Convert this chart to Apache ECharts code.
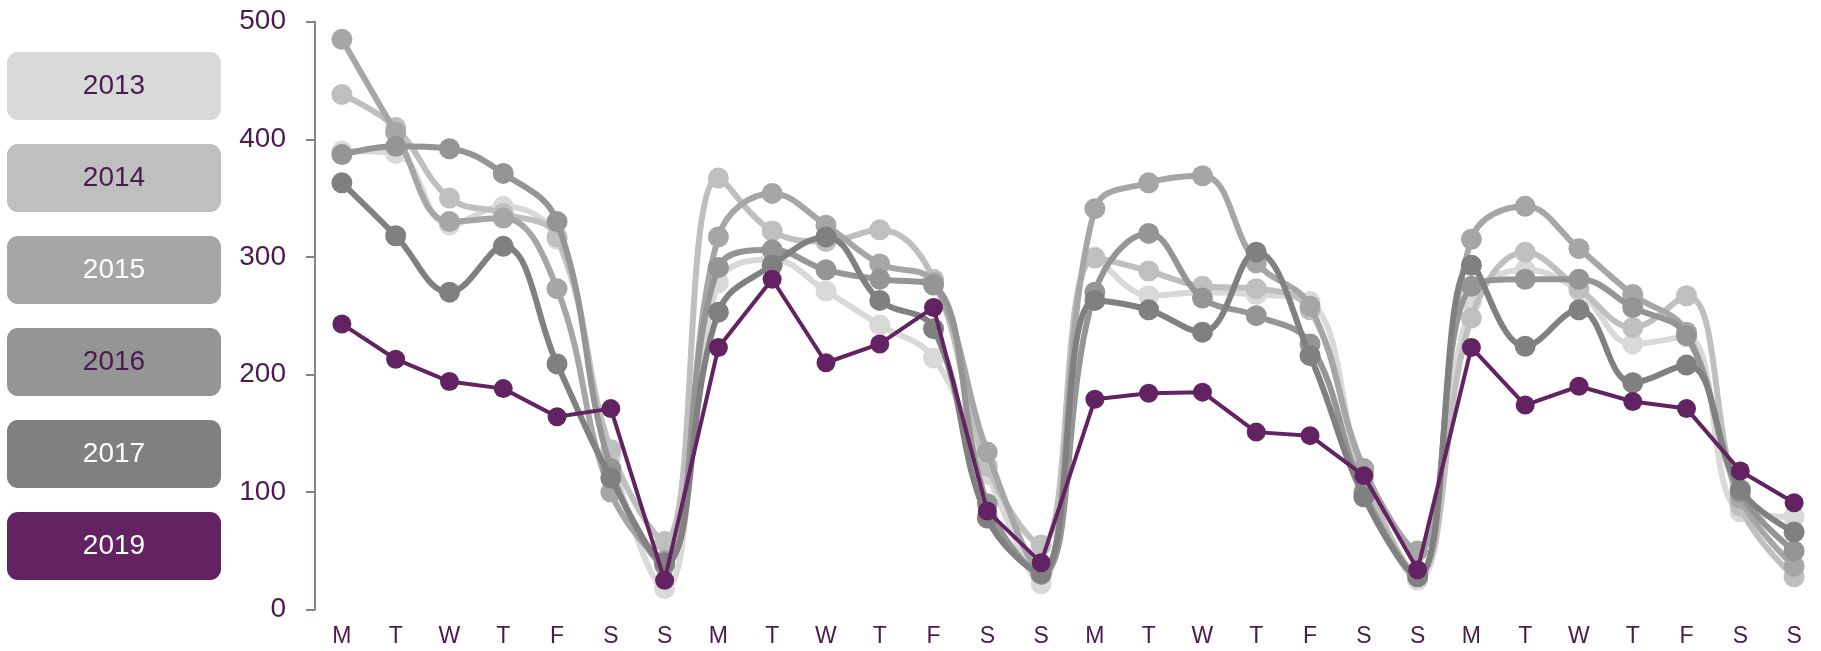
<!DOCTYPE html>
<html>
<head>
<meta charset="utf-8">
<script src="https://cdn.jsdelivr.net/npm/echarts@6/dist/echarts.min.js"></script>
<style>
  html, body { margin: 0; padding: 0; background: #ffffff; }
  #chart { width: 1821px; height: 651px; }
</style>
</head>
<body>
<div id="chart"></div>
<script>
// Weekday labels for four consecutive weeks
const dayLabels = [
  'M','T','W','T','F','S','S',
  'M','T','W','T','F','S','S',
  'M','T','W','T','F','S','S',
  'M','T','W','T','F','S','S'
];

const years = ['2013', '2014', '2015', '2016', '2017', '2019'];

// Daily counts per year
const v2013 = [390, 388, 327, 343, 315, 130, 18,
               278, 298, 271, 242, 214, 115, 22,
               300, 267, 270, 268, 262, 110, 25,
               262, 289, 271, 226, 232, 83, 79];
const v2014 = [438, 410, 350, 337, 317, 136, 58,
               367, 322, 313, 323, 281, 122, 55,
               299, 288, 275, 273, 255, 115, 30,
               248, 304, 273, 240, 267, 88, 28];
const v2015 = [485, 406, 330, 333, 273, 100, 42,
               317, 354, 327, 294, 278, 134, 32,
               341, 363, 369, 295, 258, 120, 50,
               315, 343, 307, 268, 236, 95, 37];
const v2016 = [387, 394, 392, 371, 330, 120, 38,
               291, 306, 289, 281, 276, 90, 30,
               270, 320, 265, 250, 226, 100, 30,
               275, 281, 281, 257, 233, 100, 50];
const v2017 = [363, 318, 270, 309, 209, 112, 40,
               253, 293, 317, 263, 239, 78, 31,
               263, 255, 236, 304, 216, 96, 28,
               293, 224, 255, 193, 208, 102, 66];
const v2019 = [243, 213, 194, 188, 164, 171, 25,
               223, 281, 210, 226, 257, 84, 40,
               179, 184, 185, 151, 148, 114, 34,
               223, 174, 190, 177, 171, 118, 91];

const yTicks = { min: 0, max: 500, step: 100 };

const seriesValues = [v2013, v2014, v2015, v2016, v2017, v2019];
const lineColors = ['#d9d9d9', '#bfbfbf', '#a6a6a6', '#959595', '#808080', '#632363'];
const legendTextColors = ['#4b1a4f', '#4b1a4f', '#ffffff', '#4b1a4f', '#ffffff', '#ffffff'];

const FONT = "'Liberation Sans', Arial, sans-serif";
const TEXT_PURPLE = '#4b1a4f';
const AXIS_GREY = '#8a7f8c';

const chart = echarts.init(document.getElementById('chart'), null, { renderer: 'canvas' });

const series = years.map((name, k) => {
  const highlight = name === '2019';
  return {
    name: name,
    type: 'line',
    data: seriesValues[k],
    smooth: highlight ? false : 0.4,
    symbol: 'circle',
    symbolSize: highlight ? 19 : 21,
    showSymbol: true,
    lineStyle: { width: highlight ? 4 : 6, color: lineColors[k] },
    itemStyle: { color: lineColors[k] },
    emphasis: { disabled: true },
    z: 2 + k
  };
});

chart.setOption({
  animation: false,
  backgroundColor: '#ffffff',
  legend: {
    orient: 'vertical',
    left: 2,
    top: 52,
    padding: 0,
    itemGap: 24,
    itemWidth: 0,
    itemHeight: 68,
    icon: 'none',
    selectedMode: false,
    formatter: '{b|{name}}',
    data: years.map((name, k) => ({
      name: name,
      textStyle: {
        rich: {
          b: {
            width: 214,
            height: 68,
            lineHeight: 68,
            align: 'center',
            verticalAlign: 'middle',
            backgroundColor: lineColors[k],
            borderRadius: 11,
            color: legendTextColors[k],
            fontSize: 28,
            fontFamily: FONT
          }
        }
      }
    }))
  },
  grid: { left: 315, right: -3, top: 21.7, bottom: 41.3, containLabel: false },
  xAxis: {
    type: 'category',
    data: dayLabels,
    boundaryGap: true,
    axisLine: { show: false },
    axisTick: { show: false },
    splitLine: { show: false },
    axisLabel: {
      interval: 0,
      color: TEXT_PURPLE,
      fontSize: 23,
      fontFamily: FONT,
      margin: 15
    }
  },
  yAxis: {
    type: 'value',
    min: yTicks.min,
    max: yTicks.max,
    interval: yTicks.step,
    splitLine: { show: false },
    axisLine: { show: true, lineStyle: { color: AXIS_GREY, width: 2 } },
    axisTick: { show: true, inside: false, length: 9, lineStyle: { color: AXIS_GREY, width: 2 } },
    axisLabel: {
      color: TEXT_PURPLE,
      fontSize: 28,
      fontFamily: FONT,
      margin: 29
    }
  },
  series: series
});
</script>
</body>
</html>
